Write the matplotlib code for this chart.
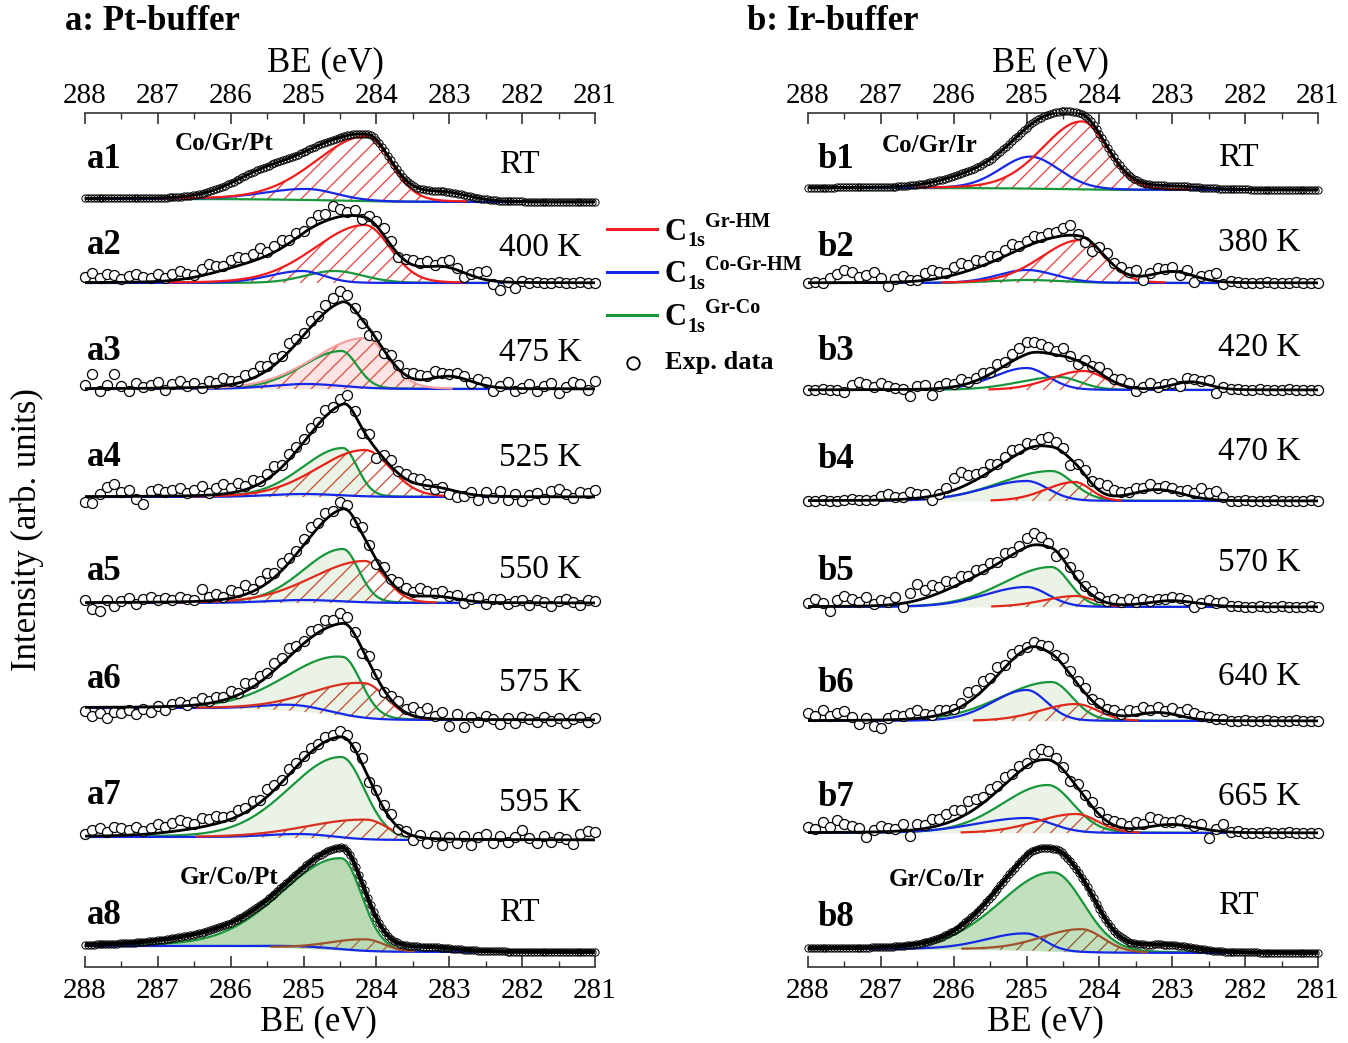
import numpy as np
import matplotlib
matplotlib.use("Agg")
import matplotlib.pyplot as plt
from matplotlib.ticker import FixedLocator

plt.rcParams['font.family'] = ['Liberation Serif', 'DejaVu Serif']
plt.rcParams['hatch.linewidth'] = 0.9

W, H = 1348, 1043

BE_MAJOR = [288, 287, 286, 285, 284, 283, 282, 281]

# ---------------- panel a: Pt-buffer ----------------
A_LABELS = ['a1', 'a2', 'a3', 'a4', 'a5', 'a6', 'a7', 'a8']
A_TEMPS = ['RT', '400 K', '475 K', '525 K', '550 K', '575 K', '595 K', 'RT']
A_BASE = [765, 684, 578, 470, 364, 247, 127, 15]
A_STEP = [3, 0, 0, 0, 0, 12, 3, 6]
# peak parameters: (BE centre, height, width on high-BE side, width on low-BE side)
A_RED = [(284.13, 65, 0.70, 0.33), (284.16, 58, 0.69, 0.35), (284.16, 51, 0.70, 0.32),
         (284.16, 47, 0.66, 0.36), (284.16, 42, 0.73, 0.28), (284.16, 35, 0.70, 0.30),
         (284.14, 20, 0.80, 0.30), (284.14, 12, 0.50, 0.25)]
A_BLUE = [(284.95, 11, 0.60, 0.40), (285.02, 12, 0.45, 0.30), (284.97, 5, 0.50, 0.50),
          (285.00, 3, 0.50, 0.50), (285.00, 3, 0.50, 0.50), (285.10, 6, 0.45, 0.40),
          (285.00, 4, 0.50, 0.40), (285.00, 2, 0.60, 0.50)]
A_GREEN = [(284.50, 0, 0.50, 0.30), (284.58, 12, 0.40, 0.40), (284.48, 38, 0.54, 0.22),
           (284.46, 49, 0.56, 0.20), (284.46, 54, 0.55, 0.22), (284.46, 59, 0.75, 0.25),
           (284.48, 82, 0.72, 0.32), (284.48, 92, 0.82, 0.28)]
A_EXTRA = [[(283.1, 9, 0.35, 0.35), (285.6, 16, 0.45, 0.45)],
           [(283.1, 15, 0.32, 0.32), (285.8, 12, 0.50, 0.50)],
           [(283.0, 12, 0.30, 0.30)],
           [(283.2, 8, 0.30, 0.30)],
           [(283.2, 6, 0.30, 0.30)],
           [],
           [(286.2, 6, 0.60, 0.60)],
           [(283.3, 4, 0.40, 0.40), (286.3, 6, 0.70, 0.70)]]
# deviations of measured points from the fit, 288.0 -> 281.0 eV every 0.1 eV
A_RESID = [
    None,
    [6, 9, 4, 8, 7, 3, 6, 8, 5, 4, 7, 3, 6, 9, 5, 2, 7, 10, 6, 4, 8, 9, 5, 7, 11, 4, 6, 8, 3, 5, 2,
     6, 9, 7, 12, 8, 4, 6, -2, 3, 5, 7, 4, -3, 2, 5, 3, 6, 1, 4, 8, 2, -4, 1, 6, 9, -3, -8, 0, -6, 1,
     0, 1, 0, 0, 1, 0, 0, 1, 0, 0],
    [4, 15, -2, 3, 14, 2, -3, 5, 1, 3, 6, -2, 4, 7, 2, 5, -1, 6, 3, 8, 4, 2, 6, 5, 9, 4, 7, 3, 8, 5, 2,
     6, 3, 7, 9, 12, 8, 2, -4, -6, 3, -3, 5, 4, 2, 6, 5, 3, 7, 4, 2, 4, 3, -2, 5, 3, -4, 2, 6, -3, 1,
     5, -2, 3, 6, -4, 2, 7, 5, -1, 8],
    [-5, -6, 3, 9, 12, 4, 6, -3, -8, 5, 7, 4, 6, 8, 3, 6, 9, 2, 7, 10, 5, 9, 4, 7, 3, 5, 8, 2, 6, 4, 3,
     5, 2, 7, 3, 6, 10, 4, -5, 6, -8, 3, 6, 2, 5, 4, 6, 2, -2, 1, -4, -6, -3, 2, -5, 4, -2, 5, -3, 3, -4,
     2, 4, -2, 6, 8, 3, -1, 5, 4, 7],
    [3, -6, -9, 2, -4, 1, 4, -2, 3, 5, 2, 4, 2, 5, 3, 1, 12, 4, 6, 2, 8, 5, 9, 3, 7, 10, 4, 8, 5, 3, 6,
     9, 4, 7, 3, 8, 5, -3, 6, 2, -4, 5, 3, 7, 6, 4, 8, 5, 3, 6, 2, 4, -3, 2, 5, -2, 3, 4, -1, 2, 3,
     -2, 3, 1, -3, 2, 4, 1, -2, 3, 2],
    [-4, -9, -6, -11, -5, -6, -3, -7, -2, -5, 1, -3, 2, 4, 1, 3, 6, 2, 5, 3, 7, 2, 8, 4, 6, 3, 7, 5, 9, 4, 2,
     6, 3, 8, 5, 10, 7, 2, -5, 6, 3, -3, 4, 6, 3, 8, 5, 10, 3, 7, -7, 5, -8, 3, -2, 4, 1, -4, 2, -3, 3,
     1, -2, 3, -1, 2, -3, 1, 3, -2, 2],
    [2, 6, 8, 4, 9, 7, 5, 8, 3, 6, 9, 5, 8, 11, 7, 4, 9, 6, 8, 5, 3, 6, 4, 7, 3, 8, 5, 2, 6, 4, 3,
     4, 2, 5, 3, 6, 4, 2, 5, -3, 4, 3, 5, -2, 1, -4, 2, -5, 3, -6, 2, -4, 3, -6, 2, 5, -3, 4, -2, 3, 10,
     2, -3, 4, -2, 3, 1, -4, 6, 9, 8],
    None,
]
A_GREEN_FILL = ['none', 'none', '#eaf3e6', '#eaf3e6', '#eaf3e6', '#eaf3e6', '#eaf3e6', '#b9dab3']
A_RED_FILL = ['none', 'none', '#fde3e3', 'none', 'none', 'none', 'none', 'none']
A_RED_LINE = ['#f01c1c', '#f01c1c', '#f7a0a0', '#e82018', '#e02a1a', '#d83020', '#d83020', '#a0522d']
A_HATCH = ['#ee4040', '#ee4040', '#d8503c', '#cc4a30', '#c84a30', '#c04a30', '#c04a30', '#a86a40']

# ---------------- panel b: Ir-buffer ----------------
B_LABELS = ['b1', 'b2', 'b3', 'b4', 'b5', 'b6', 'b7', 'b8']
B_TEMPS = ['RT', '380 K', '420 K', '470 K', '570 K', '640 K', '665 K', 'RT']
B_BASE = [777, 684, 577, 466, 360, 246, 134, 14]
B_STEP = [2, 0, 0, 0, 0, 0, 0, 4]
B_RED = [(284.24, 68, 0.54, 0.35), (284.26, 43, 0.54, 0.33), (284.22, 19, 0.45, 0.30),
         (284.34, 19, 0.40, 0.22), (284.32, 11, 0.45, 0.25), (284.32, 17, 0.50, 0.30),
         (284.32, 19, 0.55, 0.30), (284.24, 23, 0.55, 0.30)]
B_BLUE = [(284.95, 32, 0.41, 0.40), (285.00, 13, 0.40, 0.40), (285.00, 22, 0.46, 0.30),
          (285.00, 20, 0.60, 0.30), (285.00, 20, 0.58, 0.30), (285.00, 31, 0.47, 0.28),
          (285.00, 15, 0.70, 0.35), (285.00, 17, 0.55, 0.25)]
B_GREEN = [(284.60, 0, 0.50, 0.30), (285.00, 3, 0.50, 0.50), (284.56, 13, 0.55, 0.30),
           (284.66, 30, 0.71, 0.30), (284.66, 40, 0.66, 0.25), (284.66, 39, 0.70, 0.29),
           (284.71, 48, 0.63, 0.35), (284.63, 79, 0.73, 0.42)]
B_EXTRA = [[(283.0, 3, 0.40, 0.40), (285.7, 11, 0.45, 0.45)],
           [(283.0, 11, 0.30, 0.30), (285.6, 9, 0.45, 0.45)],
           [(282.75, 8, 0.25, 0.25)],
           [(283.2, 11, 0.35, 0.35)],
           [(283.0, 6, 0.35, 0.35), (285.9, 10, 0.45, 0.45)],
           [(283.2, 8, 0.30, 0.30)],
           [(283.0, 8, 0.35, 0.35)],
           [(283.1, 7, 0.40, 0.40)]]
B_RESID = [
    None,
    [0, 1, 0, 5, 9, 13, 11, 6, 8, 10, 4, -4, 3, 6, 2, 1, 7, 9, 6, 4, 8, 10, 6, 8, 5, 7, 4, 6, 9, 3, 5,
     7, 4, 6, 5, 8, 10, 2, -4, -8, 3, 5, 2, 4, 3, 6, -4, 2, 5, 3, 4, -3, 4, -6, 2, 5, 8, -2, 1, 0, 0,
     0, 0, 1, 0, 0, 0, 1, 0, 0, 0],
    [0, 0, 1, 0, 0, -2, 5, 8, 6, 3, 7, 4, 2, 0, -7, 3, 4, -6, 2, 5, 3, 6, 1, 3, 5, 2, 6, 4, 7, 9, 12,
     10, 8, 6, 4, 8, 2, -3, 4, 2, 6, 5, 3, 6, 4, -3, 2, 5, 1, 3, 2, -3, 4, 3, 2, 5, -6, 1, 0, 0, 0,
     0, 1, 0, 0, 0, 1, 0, 0, 0, 0],
    [0, 0, 1, 0, 0, 0, 1, 0, 0, 0, 4, 6, 3, 2, 7, 4, 3, -4, 1, 5, 12, 15, 9, 6, 4, 7, 3, 5, 8, 4, 6,
     3, 7, 9, 6, 4, -6, 2, 5, 3, 8, 10, 6, 4, 2, 5, 3, 6, 2, 4, 3, 2, 5, 4, 10, 6, 9, 3, 0, 0, 1,
     0, 0, 0, 1, 0, 0, 0, 0, 1, 0],
    [4, 8, 3, -5, 6, 10, 7, 4, 9, 2, 5, 3, 7, -4, 9, 16, 8, 11, 6, 9, 5, 7, 4, 6, 3, 5, 2, 6, 3, 5, 9,
     12, 8, 4, -5, 6, 3, 5, 2, 4, 3, 2, 5, 3, 6, 2, 4, 1, 3, 2, 4, 3, 2, -4, 1, 5, 2, 4, 0, 1, 0,
     0, 1, 0, 0, 1, 0, 0, 0, 1, 0],
    [8, 5, 10, 4, 7, 9, 3, -4, 2, -6, -8, 2, 5, 3, 6, 8, 4, 2, 5, 3, 1, 4, 10, 7, 9, 5, 8, 3, 6, 4, 2,
     5, 3, 6, 2, 7, 4, 3, 5, 2, 4, 3, 5, 2, 6, 4, 7, 3, 5, 2, 6, 4, 8, 6, 4, 3, 1, 2, 0, 0, 1,
     0, 0, 1, 0, 0, 0, 1, 0, 0, 0],
    [6, 3, 10, 5, 12, 8, 6, 4, -5, 2, 6, 4, 2, 7, -6, 5, 3, 8, 6, 9, 10, 7, 12, 9, 6, 8, 5, 7, 4, 6, 3,
     8, 11, 9, 5, 3, -3, 4, 2, 5, 3, 2, 4, 5, 3, 6, 4, 10, 7, 3, 2, 5, 3, 1, 4, -8, 2, 8, 0, 1, 0,
     0, 0, 1, 0, 0, 1, 0, 0, 0, 0],
    None,
]
B_GREEN_FILL = ['none', 'none', 'none', '#eaf3e6', '#eaf3e6', '#eaf3e6', '#eaf3e6', '#c2e0bd']
B_RED_FILL = ['none'] * 8
B_RED_LINE = ['#f01c1c', '#f01c1c', '#f01c1c', '#e82018', '#e02a1a', '#e02a1a', '#e02a1a', '#a0522d']
B_HATCH = ['#ee4040', '#ee4040', '#e04a3a', '#d04a30', '#c84a30', '#c84a30', '#c84a30', '#8b5a2b']

BLUE = '#1428e6'
GREEN = '#18963a'


def peak(E, p):
    e0, h, s_hi, s_lo = p
    s = np.where(E >= e0, s_hi, s_lo)
    d = (E - e0) / s
    return h * (0.88 * np.exp(-0.5 * d ** 2) + 0.12 / (1 + (d / 1.1774) ** 2))


def shirley(total, step):
    if step == 0:
        return np.zeros_like(total)
    cum = np.cumsum(total[::-1])[::-1]
    return step * cum / cum[0]


def draw_panel(ax, i, base, step, red, blue, green, extra, resid,
               gfill, rfill, rline, hatch):
    E = np.linspace(288, 281, 701)
    r, b, g = peak(E, red), peak(E, blue), peak(E, green)
    x = sum((peak(E, p) for p in extra), np.zeros_like(E))
    tot = r + b + g + x
    y0 = base + shirley(tot, step)
    rmask = r > 0.6
    gmask = g > 0.3

    if gfill != 'none':
        ax.fill_between(E, y0, y0 + g, where=gmask, color=gfill, lw=0, zorder=2)
    ax.fill_between(E, y0, y0 + r, where=rmask, facecolor=rfill,
                    edgecolor=hatch, hatch='//', lw=0, zorder=3)
    ax.plot(E, y0 + g, color=GREEN, lw=1.6, zorder=4)
    ax.plot(E, y0 + b, color=BLUE, lw=1.6, zorder=4)
    ax.plot(E, np.where(rmask, y0 + r, np.nan), color=rline, lw=1.6, zorder=4)

    # measured points
    dense = resid is None
    Ed = np.linspace(288, 281, 176 if dense else 71)
    rd, bd, gd = peak(Ed, red), peak(Ed, blue), peak(Ed, green)
    xd = sum((peak(Ed, p) for p in extra), np.zeros_like(Ed))
    td = rd + bd + gd + xd
    yd = base + shirley(td, step) + td
    if not dense:
        yd = yd + np.array(resid)
    ax.plot(Ed, yd, 'o', mfc='white' if not dense else 'none', mec='black',
            ms=5.2 if dense else 7.2, mew=0.7 if dense else 0.9,
            zorder=5, clip_on=False)
    ax.plot(E, y0 + tot, color='black', lw=3.0 if i == 7 else 2.0, zorder=6)


fig = plt.figure(figsize=(W / 100, H / 100), dpi=100)


def ftext(x, y, s, **kw):
    fig.text(x / W, 1 - y / H, s, va='center', **kw)


def style_ticks(a, pad):
    a.xaxis.set_major_locator(FixedLocator(BE_MAJOR))
    a.xaxis.set_minor_locator(FixedLocator([m + 0.5 for m in BE_MAJOR[1:]]))
    a.tick_params(axis='x', which='both', direction='in', labelsize=21, pad=pad,
                  color='#333333')
    a.tick_params(axis='x', which='major', length=8, width=1.2)
    a.tick_params(axis='x', which='minor', length=4, width=1.0)


def make_axes(left_px):
    ax = fig.add_axes([left_px / W, 1 - 967 / H, 510 / W, 854 / H])
    ax.set_xlim(288, 281)
    ax.set_ylim(0, 854)
    style_ticks(ax, 8)
    ax.set_yticks([])
    for s in ['left', 'right', 'top']:
        ax.spines[s].set_visible(False)
    ax.spines['bottom'].set_linewidth(1.2)
    ax.spines['bottom'].set_color('#333333')
    ax.patch.set_alpha(0)
    top = ax.secondary_xaxis('top')
    style_ticks(top, 3)
    top.spines['top'].set_linewidth(1.2)
    top.spines['top'].set_color('#333333')
    return ax


axa = make_axes(85)
axb = make_axes(808)

for i in range(8):
    draw_panel(axa, i, A_BASE[i], A_STEP[i], A_RED[i], A_BLUE[i], A_GREEN[i], A_EXTRA[i],
               A_RESID[i], A_GREEN_FILL[i], A_RED_FILL[i], A_RED_LINE[i], A_HATCH[i])
    draw_panel(axb, i, B_BASE[i], B_STEP[i], B_RED[i], B_BLUE[i], B_GREEN[i], B_EXTRA[i],
               B_RESID[i], B_GREEN_FILL[i], B_RED_FILL[i], B_RED_LINE[i], B_HATCH[i])

# panel labels and temperatures
a_lab_y = [160, 245, 352, 457, 572, 680, 795, 915]
b_lab_y = [160, 248, 352, 460, 572, 683, 797, 918]
a_tmp_y = [165, 248, 353, 458, 570, 683, 803, 913]
b_tmp_y = [158, 243, 348, 452, 563, 677, 797, 906]
for i in range(8):
    ftext(87, a_lab_y[i], A_LABELS[i], fontsize=25, fontweight='bold')
    ftext(818, b_lab_y[i], B_LABELS[i], fontsize=25, fontweight='bold')
    ftext(499, a_tmp_y[i], A_TEMPS[i], fontsize=24)
    ftext(1218, b_tmp_y[i], B_TEMPS[i], fontsize=24)

ftext(175, 143, 'Co/Gr/Pt', fontsize=18, fontweight='bold')
ftext(180, 877, 'Gr/Co/Pt', fontsize=18, fontweight='bold')
ftext(882, 146, 'Co/Gr/Ir', fontsize=18, fontweight='bold')
ftext(889, 880, 'Gr/Co/Ir', fontsize=18, fontweight='bold')

ftext(65, 21, 'a: Pt-buffer', fontsize=25, fontweight='bold')
ftext(747, 21, 'b: Ir-buffer', fontsize=25, fontweight='bold')
ftext(325, 63, 'BE (eV)', fontsize=25, ha='center')
ftext(1050, 63, 'BE (eV)', fontsize=25, ha='center')
ftext(318, 1022, 'BE (eV)', fontsize=25, ha='center')
ftext(1045, 1022, 'BE (eV)', fontsize=25, ha='center')
ftext(27, 530, 'Intensity (arb. units)', fontsize=25, ha='center', rotation=90)

# legend
leg = [('Gr-HM', '#ee1c24', 229), ('Co-Gr-HM', BLUE, 272), ('Gr-Co', GREEN, 315)]
for sup, col, y in leg:
    fig.add_artist(plt.Line2D([607 / W, 657 / W], [1 - y / H, 1 - y / H], color=col, lw=2.2))
    ftext(665, y + 3, 'C', fontsize=22, fontweight='bold')
    ftext(687, y + 12, '1s', fontsize=14.5, fontweight='bold')
    ftext(705, y - 7, sup, fontsize=14.5, fontweight='bold')
fig.add_artist(plt.Line2D([633 / W], [1 - 363 / H], marker='o', mfc='white', mec='black',
                          ms=9, mew=1.3))
ftext(665, 363, 'Exp. data', fontsize=19, fontweight='bold')

fig.savefig('out.png', dpi=100)
